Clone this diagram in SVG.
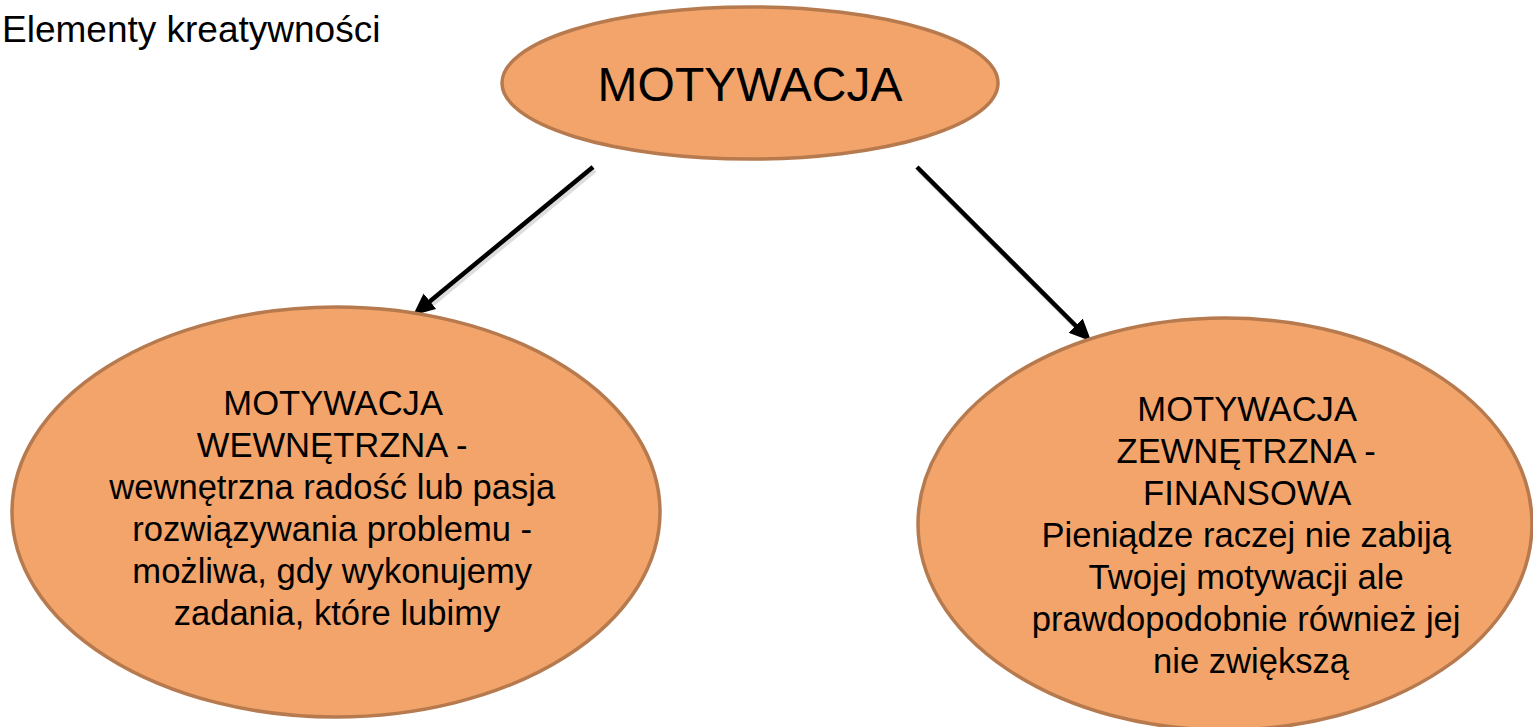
<svg xmlns="http://www.w3.org/2000/svg" width="1533" height="727" viewBox="0 0 1533 727">
<style>
.node{fill:#F2A46A;stroke:#B67A4E;stroke-width:3.5}
.t{font-family:"Liberation Sans",Arial,sans-serif;fill:#000;text-anchor:middle}
.body{font-size:34.6px}
.conn{stroke:#000;stroke-width:4.5;fill:none}
.shadow{stroke:#bbb;stroke-width:5;fill:none;opacity:0.5}
</style>
<defs>
<marker id="ah" markerUnits="userSpaceOnUse" markerWidth="24" markerHeight="22" refX="9" refY="10" orient="auto">
<path d="M0,0 L22,10 L0,20 z" fill="#000"/>
</marker>
</defs>
<rect width="1533" height="727" fill="#fff"/>
<text class="t" x="2" y="42" style="text-anchor:start;font-size:37px">Elementy kreatywności</text>
<g id="connectors">
<line class="shadow" x1="595" y1="170" x2="425" y2="310"/>
<line class="shadow" x1="919" y1="170" x2="1085" y2="336"/>
<line class="conn" x1="593" y1="167" x2="423" y2="307" marker-end="url(#ah)"/>
<line class="conn" x1="917" y1="167" x2="1082" y2="332" marker-end="url(#ah)"/>
</g>
<g id="motywacja">
<ellipse class="node" cx="750" cy="83" rx="248" ry="76"/>
<text class="t" x="750" y="101" style="font-size:48px">MOTYWACJA</text>
</g>
<g id="wewnetrzna">
<ellipse class="node" cx="336" cy="512" rx="324" ry="205"/>
<text class="t body">
<tspan x="337" y="415">MOTYWACJA</tspan>
<tspan x="337" y="457">WEWNĘTRZNA -</tspan>
<tspan x="337" y="499">wewnętrzna radość lub pasja</tspan>
<tspan x="337" y="541">rozwiązywania problemu -</tspan>
<tspan x="337" y="583">możliwa, gdy wykonujemy</tspan>
<tspan x="337" y="625">zadania, które lubimy</tspan>
</text>
</g>
<g id="zewnetrzna">
<ellipse class="node" cx="1225" cy="524" rx="307" ry="206"/>
<text class="t body">
<tspan x="1251" y="421">MOTYWACJA</tspan>
<tspan x="1251" y="463">ZEWNĘTRZNA -</tspan>
<tspan x="1251" y="505">FINANSOWA</tspan>
<tspan x="1251" y="547">Pieniądze raczej nie zabiją</tspan>
<tspan x="1251" y="589">Twojej motywacji ale</tspan>
<tspan x="1251" y="631">prawdopodobnie również jej</tspan>
<tspan x="1251" y="673">nie zwiększą</tspan>
</text>
</g>
</svg>
